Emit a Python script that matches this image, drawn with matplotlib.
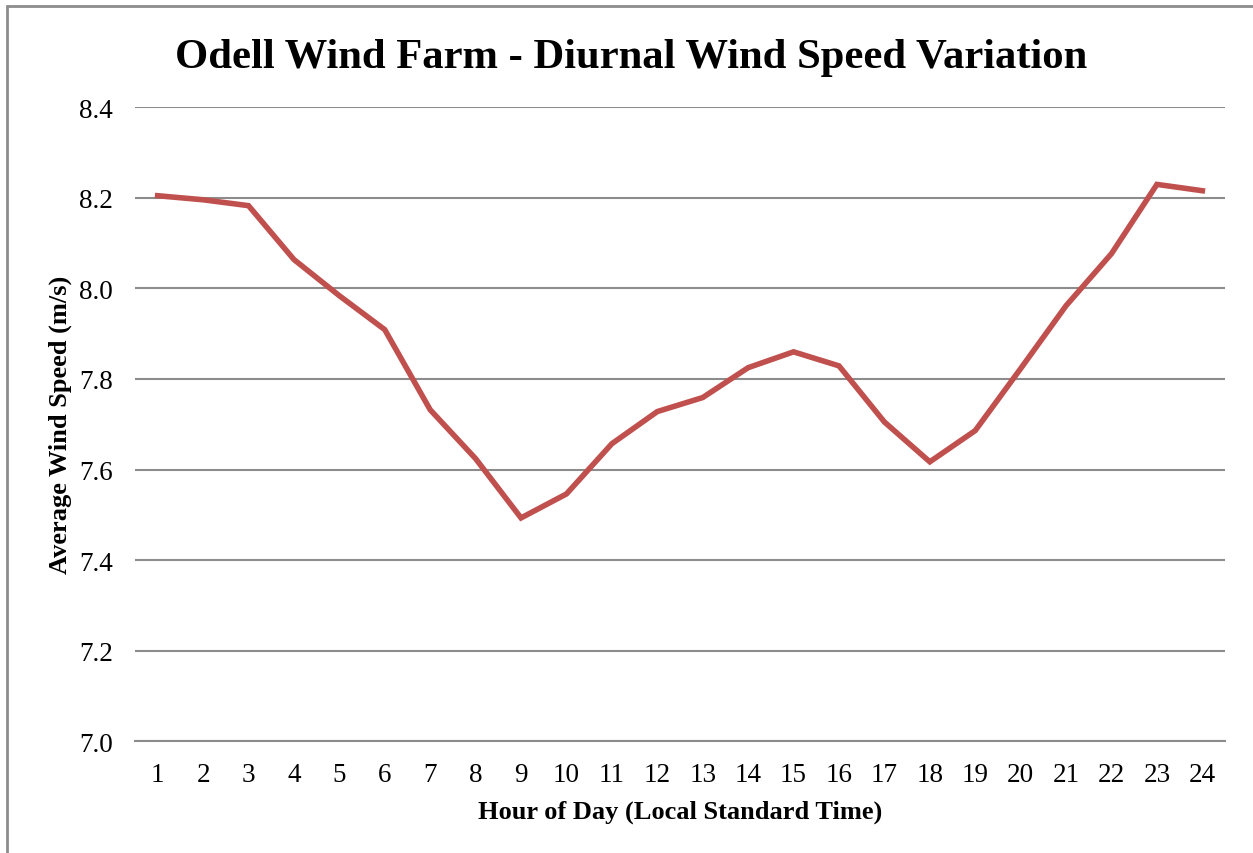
import matplotlib.pyplot as plt
from matplotlib.patches import Rectangle

hours = list(range(1, 25))
wind_speed = [8.205, 8.196, 8.183, 8.064, 7.984, 7.909, 7.732, 7.624, 7.493, 7.546,
              7.657, 7.728, 7.759, 7.825, 7.860, 7.829, 7.705, 7.617, 7.686, 7.823,
              7.962, 8.077, 8.230, 8.216]
y_ticks = [7.0, 7.2, 7.4, 7.6, 7.8, 8.0, 8.2, 8.4]

plt.rcParams['font.family'] = ['Liberation Serif', 'DejaVu Serif']

fig = plt.figure(figsize=(12.53, 8.54), dpi=100)
ax = fig.add_axes([0.1077, 0.1311, 0.8700, 0.7419])

# outer chart frame
fig.patches.append(Rectangle((7 / 1253, -0.05), 1.1, 1.05 - 7 / 854, transform=fig.transFigure,
                             fill=False, edgecolor='#8c8c8c', lw=2))

ax.plot(hours, wind_speed, color='#c0504d', lw=4, solid_joinstyle='miter')

ax.set_xlim(0.5, 24.5)
ax.set_ylim(7.0, 8.4)
ax.set_xticks(hours)
ax.set_yticks(y_ticks)
ax.set_yticklabels([f'{v:.1f}' for v in y_ticks])
ax.yaxis.grid(True, color='#8c8c8c', lw=1.5)
ax.set_axisbelow(True)
for side in ['top', 'right', 'left']:
    ax.spines[side].set_visible(False)
ax.spines['bottom'].set_color('#8c8c8c')
ax.spines['bottom'].set_linewidth(1.5)
ax.tick_params(axis='both', length=0, labelsize=19.5)
ax.tick_params(axis='y', pad=16)
ax.tick_params(axis='x', pad=15)

ax.set_xlabel('Hour of Day (Local Standard Time)', fontsize=19, fontweight='bold', labelpad=9)
ax.set_ylabel('Average Wind Speed (m/s)', fontsize=19, fontweight='bold', labelpad=5)
fig.text(0.504, 0.932, 'Odell Wind Farm - Diurnal Wind Speed Variation', ha='center', va='center',
         fontsize=30.7, fontweight='bold')

fig.savefig('out.png', dpi=100)
